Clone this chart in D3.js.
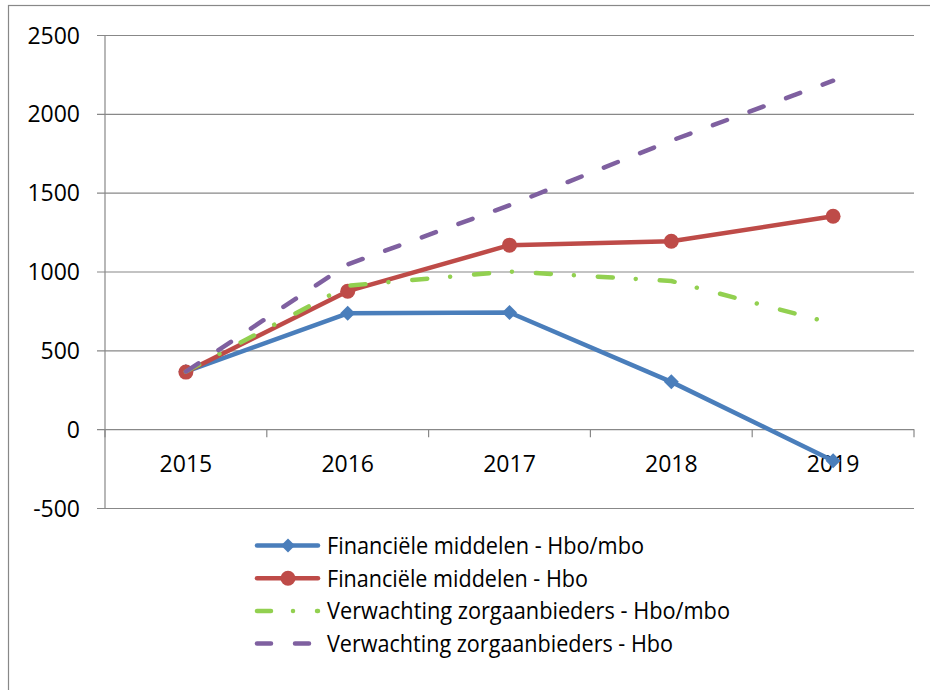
<!DOCTYPE html>
<html>
<head>
<meta charset="utf-8">
<script src="https://cdn.jsdelivr.net/npm/d3@7/dist/d3.min.js"></script>
<style>
  html, body { margin: 0; padding: 0; background: #fff; }
  svg { display: block; }
  text { font-family: "Open Sans", "Noto Sans", sans-serif; fill: #000; }
</style>
</head>
<body>
<svg id="chart" width="930" height="690"></svg>
<script>
// ---- data ----
const years = ["2015", "2016", "2017", "2018", "2019"];
const yTicks = [-500, 0, 500, 1000, 1500, 2000, 2500];
const seriesNames = [
  "Financiële middelen - Hbo/mbo",
  "Financiële middelen - Hbo",
  "Verwachting zorgaanbieders - Hbo/mbo",
  "Verwachting zorgaanbieders - Hbo"
];
const finHboMbo = [365, 735, 740, 300, -200];
const finHbo = [362, 875, 1167, 1192, 1350];
const verwHboMbo = [365, 910, 1000, 940, 670];
const verwHbo = [365, 1045, 1420, 1830, 2210];

// ---- styles ----
const styles = [
  { color: "#4A7EBB", dash: null, legDash: null, marker: "diamond" },
  { color: "#BE4B48", dash: null, legDash: null, marker: "circle" },
  { color: "#92D050", dash: "15,23,0.01,24", legDash: "14,22,0.01,24", marker: null },
  { color: "#7F60A0", dash: "15,24", legDash: "14,24", marker: null }
];
const legendWidths = [317, 261, 403, 346];
const allSeries = [finHboMbo, finHbo, verwHboMbo, verwHbo];

(function () {
const svg = d3.select("#chart");
const gridColor = "#888888";

// outer frame
svg.append("rect")
  .attr("x", 8.5).attr("y", 5.5)
  .attr("width", 940).attr("height", 700)
  .attr("fill", "none").attr("stroke", gridColor).attr("stroke-width", 1.2);

const pLeft = 105, pRight = 914, pTop = 35, pBottom = 508;
const x = d3.scaleBand().domain(years).range([pLeft, pRight]).padding(0);
const y = d3.scaleLinear().domain([-500, 2500]).range([pBottom, pTop]);

// gridlines + y labels
const yAxis = d3.axisLeft(y).tickValues(yTicks).tickSize(-(pRight - pLeft)).tickFormat(d => d).tickPadding(0);
const gy = svg.append("g").attr("transform", `translate(${pLeft},0)`).call(yAxis);
gy.select(".domain").remove();
gy.selectAll(".tick line")
  .attr("x1", -8)
  .attr("stroke", gridColor).attr("stroke-width", 1.2);
gy.selectAll(".tick text")
  .attr("x", -25).attr("dy", null).attr("y", 8)
  .attr("text-anchor", "end")
  .style("font-size", "23px").style("font-family", '"Open Sans", "Noto Sans", sans-serif');

// vertical axis line
svg.append("line")
  .attr("x1", pLeft).attr("x2", pLeft).attr("y1", y(2500)).attr("y2", y(-500))
  .attr("stroke", gridColor).attr("stroke-width", 1.2);

// category axis at y=0
const xAxis = d3.axisBottom(x).tickSize(0).tickFormat(d => d);
const gx = svg.append("g").attr("transform", `translate(0,${y(0)})`).call(xAxis);
gx.select(".domain").remove();
gx.selectAll(".tick text")
  .attr("y", 43).attr("dy", null)
  .style("font-size", "23px").style("font-family", '"Open Sans", "Noto Sans", sans-serif');
// tick marks at category boundaries
const boundaries = years.map(d => x(d)).concat([x(years[years.length - 1]) + x.bandwidth()]);
svg.append("g").selectAll("line").data(boundaries).join("line")
  .attr("x1", d => d).attr("x2", d => d)
  .attr("y1", y(0)).attr("y2", y(0) + 8)
  .attr("stroke", gridColor).attr("stroke-width", 1.2);

const cx = d => x(d) + x.bandwidth() / 2;
const line = d3.line().x((d, i) => cx(years[i])).y(d => y(d));

const diamond = (px, py, r) => `M${px},${py - r}L${px + r},${py}L${px},${py + r}L${px - r},${py}Z`;

allSeries.forEach((vals, si) => {
  const st = styles[si];
  const g = svg.append("g");
  g.append("path")
    .attr("d", line(vals))
    .attr("fill", "none")
    .attr("stroke", st.color)
    .attr("stroke-width", 4.5)
    .attr("stroke-linecap", "round")
    .attr("stroke-linejoin", "round")
    .attr("stroke-dasharray", st.dash);
  if (st.marker === "circle") {
    g.selectAll("circle").data(vals).join("circle")
      .attr("cx", (d, i) => cx(years[i])).attr("cy", d => y(d))
      .attr("r", 7.5).attr("fill", st.color);
  } else if (st.marker === "diamond") {
    g.selectAll("path.m").data(vals).join("path").attr("class", "m")
      .attr("d", (d, i) => diamond(cx(years[i]), y(d), 7.5))
      .attr("fill", st.color);
  }
});

// legend
const legY0 = 545.5, legStep = 32.7;
const leg = svg.append("g");
seriesNames.forEach((name, i) => {
  const st = styles[i];
  const ly = legY0 + i * legStep;
  leg.append("line")
    .attr("x1", 257).attr("x2", 318).attr("y1", ly).attr("y2", ly)
    .attr("stroke", st.color).attr("stroke-width", 4.5)
    .attr("stroke-linecap", "round")
    .attr("stroke-dasharray", st.legDash);
  if (st.marker === "circle") {
    leg.append("circle").attr("cx", 288).attr("cy", ly).attr("r", 7.5).attr("fill", st.color);
  } else if (st.marker === "diamond") {
    leg.append("path").attr("d", diamond(288, ly, 7)).attr("fill", st.color);
  }
  leg.append("text")
    .attr("x", 327).attr("y", ly + 8.5)
    .attr("textLength", legendWidths[i])
    .attr("lengthAdjust", "spacingAndGlyphs")
    .style("font-size", "23px")
    .text(name);
});
})();
</script>
</body>
</html>
